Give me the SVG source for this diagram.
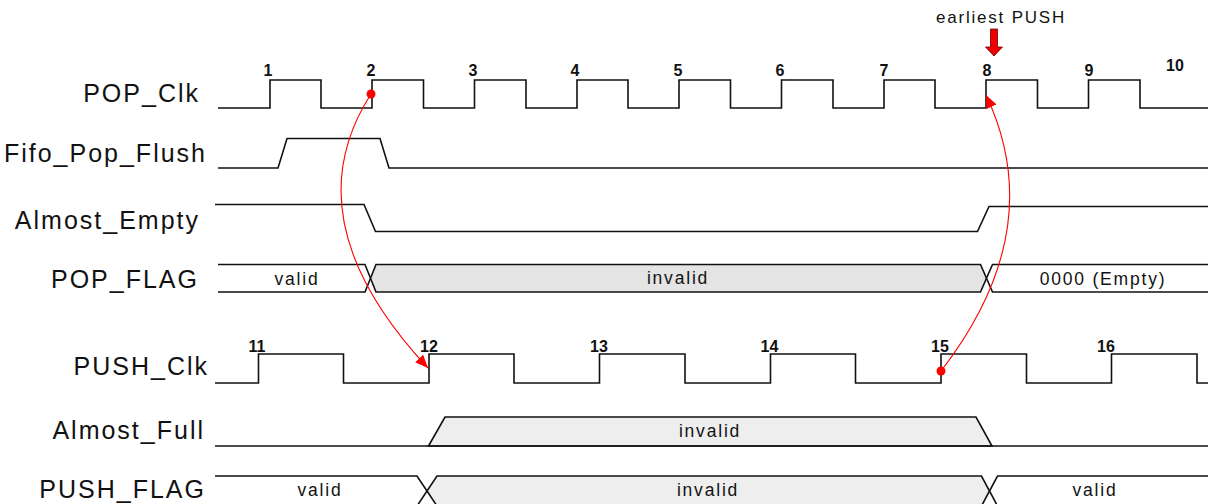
<svg xmlns="http://www.w3.org/2000/svg" width="1208" height="504" viewBox="0 0 1208 504">
  <style>
    .lbl { font-family: "Liberation Sans", Arial, sans-serif; font-size: 25px; letter-spacing: 2px; fill: #111; text-anchor: end; }
    .num { font-family: "Liberation Sans", Arial, sans-serif; font-size: 16px; font-weight: bold; fill: #111; text-anchor: middle; }
    .bus { font-family: "Liberation Sans", Arial, sans-serif; font-size: 17.5px; letter-spacing: 1.8px; fill: #111; text-anchor: middle; }
    .note { font-family: "Liberation Sans", Arial, sans-serif; font-size: 17px; letter-spacing: 1.8px; fill: #111; text-anchor: middle; }
    .wave { fill: none; stroke: #111; stroke-width: 1.6; stroke-linejoin: miter; }
    .seg { fill: #fff; stroke: #111; stroke-width: 1.6; }
    .inv1 { fill: #e4e4e4; stroke: #111; stroke-width: 1.6; }
    .inv2 { fill: #eeeeee; stroke: #111; stroke-width: 1.6; }
    .conn { fill: none; stroke: #ff0000; stroke-width: 1.1; }
    .dot { fill: #ff0000; }
  </style>
  <defs>
    <marker id="ah" markerUnits="userSpaceOnUse" markerWidth="14" markerHeight="12" refX="13" refY="5.5" orient="auto">
      <path d="M0,0 L13,5.5 L0,11 Z" fill="#ff0000"/>
    </marker>
  </defs>
  <rect x="0" y="0" width="1208" height="504" fill="#fff"/>

  <g id="note-earliest-push">
    <text class="note" x="1001" y="23">earliest PUSH</text>
    <polygon points="990.5,29 997.5,29 997.5,47 1002.5,47 994,56 985.5,47 990.5,47" fill="#ee0000" stroke="#700000" stroke-width="0.8"/>
  </g>

  <g id="pop-clk">
    <text class="lbl" x="200" y="102">POP_Clk</text>
    <path class="wave" d="M218,108 H270 V80 H321 V108 H372 V80 H423.5 V108 H474.5 V80 H526 V108 H577 V80 H628 V108 H679 V80 H730.5 V108 H781.5 V80 H833 V108 H884 V80 H935 V108 H986 V80 H1037.5 V108 H1088.5 V80 H1140 V108 H1208"/>
    <text class="num" x="268" y="76">1</text>
    <text class="num" x="371" y="76">2</text>
    <text class="num" x="473" y="76">3</text>
    <text class="num" x="575" y="76">4</text>
    <text class="num" x="678" y="76">5</text>
    <text class="num" x="780" y="76">6</text>
    <text class="num" x="884" y="76">7</text>
    <text class="num" x="987" y="76">8</text>
    <text class="num" x="1089" y="76">9</text>
    <text class="num" x="1175" y="71">10</text>
  </g>

  <g id="fifo-pop-flush">
    <text class="lbl" x="207" y="162">Fifo_Pop_Flush</text>
    <path class="wave" d="M218,168 H278 L287,138.5 H380 L389,168 H1208"/>
  </g>

  <g id="almost-empty">
    <text class="lbl" x="200" y="229">Almost_Empty</text>
    <path class="wave" d="M215,204.5 H364 L375.5,231.5 H977.5 L989,206.5 H1208"/>
  </g>

  <g id="pop-flag">
    <text class="lbl" x="199" y="288">POP_FLAG</text>
    <path class="seg" d="M218,264.5 H365 L370.5,278.25 L365,292 H218"/>
    <path class="inv1" d="M370.5,278.25 L376,264.5 H980.5 L986.5,278.25 L980.5,292 H376 Z"/>
    <path class="seg" d="M1209,264.5 H992.5 L986.5,278.25 L992.5,292 H1209"/>
    <text class="bus" x="297" y="285">valid</text>
    <text class="bus" x="678" y="284">invalid</text>
    <text class="bus" x="1103" y="285">0000 (Empty)</text>
  </g>

  <g id="push-clk">
    <text class="lbl" x="209" y="375">PUSH_Clk</text>
    <path class="wave" d="M215,383 H258.5 V354 H343.5 V383 H429 V354 H514 V383 H599.5 V354 H685 V383 H770.5 V354 H855.5 V383 H941 V354 H1026.5 V383 H1111.5 V354 H1197 V383 H1208"/>
    <text class="num" x="257" y="351.5">11</text>
    <text class="num" x="429" y="351.5">12</text>
    <text class="num" x="599" y="351.5">13</text>
    <text class="num" x="769.5" y="351.5">14</text>
    <text class="num" x="940" y="351.5">15</text>
    <text class="num" x="1106" y="351.5">16</text>
  </g>

  <g id="almost-full">
    <text class="lbl" x="205" y="439">Almost_Full</text>
    <path class="inv2" d="M428.5,446 L445,417 H976 L992,446 Z"/>
    <path class="wave" d="M215,446 H1208"/>
    <text class="bus" x="710" y="437">invalid</text>
  </g>

  <g id="push-flag">
    <text class="lbl" x="206" y="498">PUSH_FLAG</text>
    <path class="seg" d="M215,476 H417 L427,491 L417,506 H215"/>
    <path class="inv2" d="M427,491 L437,476 H981.5 L989.5,491 L981.5,506 H437 Z"/>
    <path class="seg" d="M1209,476 H997.5 L989.5,491 L997.5,506 H1209"/>
    <text class="bus" x="320" y="496">valid</text>
    <text class="bus" x="708" y="496">invalid</text>
    <text class="bus" x="1095" y="496">valid</text>
  </g>

  <g id="connectors">
    <path class="conn" d="M371,94 Q290,220 428,368" marker-end="url(#ah)"/>
    <circle class="dot" cx="371" cy="94" r="4.5"/>
    <path class="conn" d="M941,371 Q1050,230 986,95" marker-end="url(#ah)"/>
    <circle class="dot" cx="941" cy="371" r="4.5"/>
  </g>
</svg>
